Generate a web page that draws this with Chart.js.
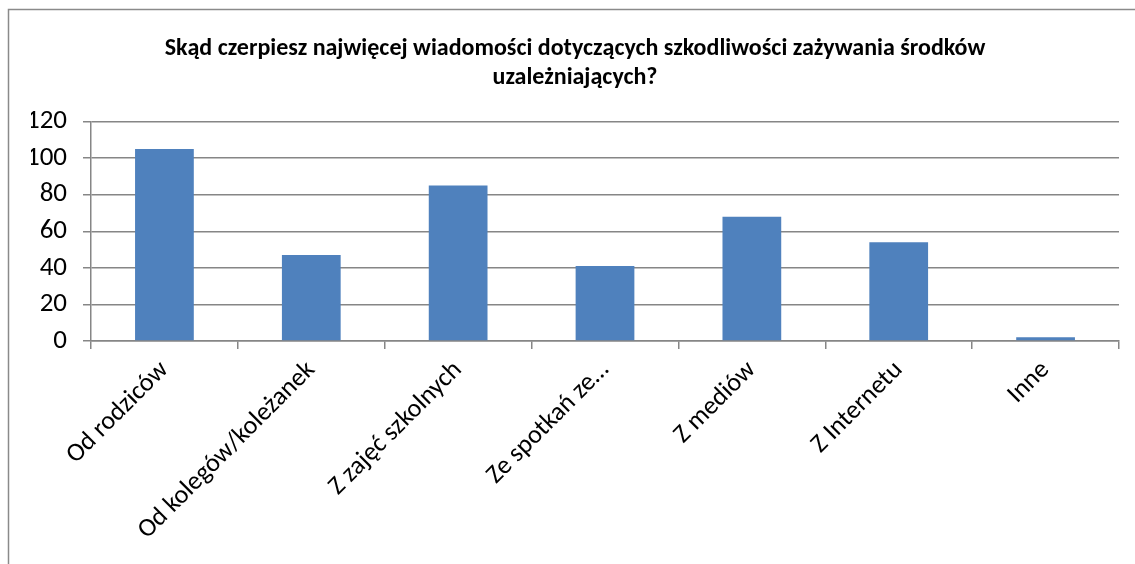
<!DOCTYPE html>
<html lang="pl">
<head>
<meta charset="UTF-8" />
<title>Skąd czerpiesz wiadomości</title>
<script src="https://cdn.jsdelivr.net/npm/chart.js"></script>
<style>
    html, body { margin: 0; padding: 0; background: #fff; }
    .wrap { position: relative; width: 1135px; height: 564px; }
</style>
</head>
<body>
<div class="wrap">
    <canvas id="chart"></canvas>
</div>
<script>
    const categories = ['Od rodziców', 'Od kolegów/koleżanek', 'Z zajęć szkolnych', 'Ze spotkań ze…', 'Z mediów', 'Z Internetu', 'Inne'];
    const answers = [105, 47, 85, 41, 68, 54, 2];
    const titleLines = ['Skąd czerpiesz najwięcej wiadomości dotyczących szkodliwości zażywania środków', 'uzależniających?'];
    const gridColor = '#868686';

    // outer frame of the original chart object (only top and left edge are visible)
    const framePlugin = {
        id: 'frame',
        beforeDraw(chart) {
            const c = chart.ctx;
            c.save();
            c.strokeStyle = '#8a8a8a';
            c.lineWidth = 1.5;
            c.beginPath();
            c.moveTo(8.5, chart.height);
            c.lineTo(8.5, 9.5);
            c.lineTo(chart.width, 9.5);
            c.stroke();
            c.restore();
        }
    };

    const font = "Carlito, Lato, 'Liberation Sans', sans-serif";

    new Chart(document.getElementById('chart'), {
        type: 'bar',
        data: {
            labels: categories,
            datasets: [{
                data: answers,
                backgroundColor: '#4F81BD',
                borderWidth: 0,
                barPercentage: 0.4,
                categoryPercentage: 1
            }]
        },
        options: {
            responsive: true,
            maintainAspectRatio: false,
            animation: false,
            layout: { padding: { left: 31, right: 16, top: 0, bottom: 0 } },
            plugins: {
                legend: { display: false },
                tooltip: { enabled: false },
                title: {
                    display: true,
                    text: titleLines,
                    color: '#000',
                    font: { family: font, size: 24, weight: 'bold', lineHeight: 1.22 },
                    padding: { top: 34, bottom: 29 }
                }
            },
            scales: {
                y: {
                    min: 0,
                    max: 120,
                    ticks: {
                        stepSize: 20,
                        color: '#000',
                        padding: 16,
                        font: { family: font, size: 27 }
                    },
                    grid: { color: gridColor, lineWidth: 1.5, tickLength: 8 },
                    border: { color: gridColor, width: 1.5 },
                    afterFit(scale) { scale.width = 60; }
                },
                x: {
                    ticks: {
                        color: '#000',
                        maxRotation: 45,
                        minRotation: 45,
                        autoSkip: false,
                        padding: 6,
                        font: { family: font, size: 26 }
                    },
                    grid: { display: true, drawOnChartArea: false, color: gridColor, lineWidth: 1.5, tickLength: 8 },
                    border: { color: gridColor, width: 1.5 },
                    afterFit(scale) { scale.height = 223; }
                }
            }
        },
        plugins: [framePlugin]
    });
</script>
</body>
</html>
